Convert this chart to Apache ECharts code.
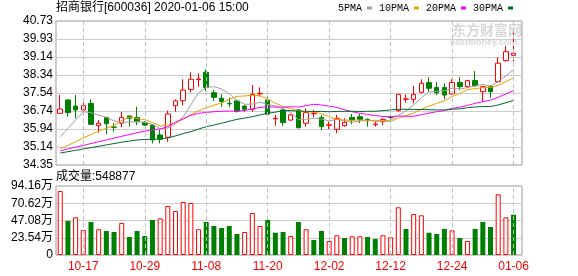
<!DOCTYPE html>
<html><head><meta charset="utf-8">
<script src="https://cdn.jsdelivr.net/npm/echarts@6/dist/echarts.min.js"></script>
<style>html,body{margin:0;padding:0;background:#fff}#c{width:578px;height:276px}</style>
</head><body><div id="c"></div>
<script>
const dates = ['10-14','10-15','10-16','10-17','10-18','10-21','10-22','10-23','10-24','10-25',
  '10-28','10-29','10-30','10-31','11-01','11-04','11-05','11-06','11-07','11-08',
  '11-11','11-12','11-13','11-14','11-15','11-18','11-19','11-20','11-21','11-22',
  '11-25','11-26','11-27','11-28','11-29','12-02','12-03','12-04','12-05','12-06',
  '12-09','12-10','12-11','12-12','12-13','12-16','12-17','12-18','12-19','12-20',
  '12-23','12-24','12-25','12-26','12-27','12-30','12-31','01-02','01-03','01-06'];
const opens = [36.64,37.23,36.96,36.79,37.08,36.09,36.46,36.03,36.20,36.52,
  36.46,36.23,36.12,35.68,35.58,36.98,37.20,37.70,38.13,38.46,
  37.55,37.31,37.08,37.19,36.96,36.82,37.50,37.23,36.40,36.79,
  36.34,36.79,36.20,36.62,36.46,36.11,35.93,36.09,36.46,36.49,
  36.37,36.14,36.27,36.47,36.76,37.26,37.26,37.57,38.00,37.78,
  37.78,37.50,38.01,37.82,38.09,37.60,37.82,38.04,38.97,39.21];
const closes = [36.83,36.67,36.79,36.98,36.15,36.20,36.18,36.02,36.46,36.42,
  36.27,36.12,35.46,35.49,36.61,37.19,37.67,38.15,38.16,37.78,
  37.35,37.16,37.06,36.74,36.82,37.48,37.53,36.60,36.42,36.23,
  36.57,36.00,36.67,36.64,36.05,36.13,36.42,36.24,36.34,36.37,
  36.31,36.16,36.37,36.45,37.48,37.28,37.48,37.97,37.75,37.55,
  37.45,38.01,37.82,38.09,37.86,37.82,37.60,38.86,39.37,39.30];
const lows = [36.62,36.49,36.42,36.77,36.12,35.78,35.72,35.83,36.02,36.05,
  36.12,36.08,35.31,35.31,35.38,36.71,36.98,37.57,37.82,37.63,
  37.19,36.93,36.91,36.67,36.71,36.71,37.38,36.52,36.09,36.09,
  36.30,35.98,36.05,36.46,35.90,35.94,35.75,36.05,36.15,36.20,
  36.05,36.05,36.12,36.27,36.71,37.11,37.08,37.53,37.60,37.45,
  37.26,37.45,37.67,37.75,37.82,37.16,37.33,38.00,38.93,38.93];
const highs = [37.45,37.25,37.45,37.11,37.26,36.34,36.48,36.20,36.71,36.55,
  36.93,36.30,36.15,35.90,36.76,37.26,38.15,38.46,38.41,38.59,
  37.67,37.48,37.33,37.21,37.01,37.89,37.79,37.38,36.57,36.82,
  36.62,36.82,36.86,36.79,36.57,36.27,36.57,36.42,36.61,36.61,
  36.42,36.27,36.42,36.57,37.50,37.48,37.85,38.15,38.24,38.04,
  37.97,38.15,38.24,38.12,38.51,37.86,37.89,39.12,39.62,40.21];
const volumes = [873000,464000,514000,341000,450000,351000,328000,314000,437000,246000,
  328000,259000,478000,501000,669000,600000,723000,710000,351000,450000,
  396000,368000,396000,287000,314000,573000,396000,478000,304000,314000,
  259000,450000,351000,205000,328000,191000,269000,232000,255000,255000,
  246000,218000,269000,242000,651000,355000,560000,542000,304000,287000,
  355000,337000,232000,191000,355000,450000,382000,828000,514000,548877];
const ma5 = [35.60,35.97,36.34,36.71,36.67,36.56,36.46,36.31,36.22,36.26,
  36.27,36.25,36.15,35.96,35.99,36.17,36.48,37.02,37.55,37.79,
  37.82,37.72,37.50,37.22,37.04,37.05,37.13,37.03,36.97,36.85,
  36.67,36.36,36.38,36.42,36.39,36.30,36.38,36.30,36.24,36.30,
  36.34,36.28,36.31,36.33,36.55,36.75,37.01,37.33,37.59,37.61,
  37.64,37.75,37.72,37.78,37.85,37.92,37.84,38.05,38.30,38.59];
const ma10 = [35.08,35.22,35.38,35.55,35.70,35.85,35.98,36.10,36.32,36.47,
  36.41,36.36,36.23,36.08,36.12,36.22,36.37,36.58,36.75,36.89,
  37.00,37.10,37.26,37.39,37.41,37.44,37.42,37.27,37.09,36.94,
  36.86,36.75,36.71,36.70,36.62,36.48,36.37,36.34,36.33,36.34,
  36.32,36.33,36.30,36.28,36.43,36.54,36.65,36.82,36.96,37.08,
  37.19,37.38,37.52,37.69,37.73,37.78,37.79,37.88,38.04,38.22];
const ma20 = [34.98,35.06,35.14,35.22,35.30,35.38,35.46,35.54,35.62,35.70,
  35.78,35.85,35.90,35.95,36.05,36.25,36.40,36.55,36.64,36.68,
  36.71,36.73,36.74,36.73,36.77,36.83,36.90,36.93,36.92,36.91,
  36.93,36.92,36.98,37.04,37.01,36.96,36.90,36.80,36.71,36.64,
  36.59,36.54,36.50,36.49,36.52,36.51,36.51,36.58,36.65,36.71,
  36.76,36.86,36.91,36.99,37.08,37.16,37.22,37.35,37.50,37.65];
const ma30 = [34.88,34.94,35.00,35.06,35.12,35.18,35.24,35.30,35.36,35.41,
  35.46,35.48,35.49,35.50,35.55,35.64,35.74,35.83,35.94,36.05,
  36.12,36.20,36.29,36.37,36.43,36.49,36.57,36.64,36.69,36.77,
  36.76,36.74,36.73,36.72,36.72,36.71,36.72,36.73,36.73,36.72,
  36.73,36.73,36.76,36.79,36.82,36.82,36.81,36.81,36.80,36.79,
  36.79,36.82,36.84,36.89,36.92,36.94,36.94,37.01,37.11,37.21];
const priceTicks = ['34.35','35.14','35.94','36.74','37.54','38.34','39.14','39.93','40.73'];
const volumeTicks = ['0','23.54万','47.08万','70.62万','94.16万'];
const labelDates = ['10-17','10-29','11-08','11-20','12-02','12-12','12-24','01-06'];
const maNames = ['5PMA','10PMA','20PMA','30PMA'];

const FONT = 'Liberation Sans, "Noto Sans CJK SC", sans-serif';
const pMin = Number(priceTicks[0]), pMax = Number(priceTicks[priceTicks.length-1]);
const pInt = Math.round((pMax - pMin) / (priceTicks.length - 1) * 1e6) / 1e6;
const vMax = 941600, vInt = Math.round(vMax / (volumeTicks.length - 1));

const UP = '#ff0000', DOWN = '#008000';
function dashLine() {
  return {
    silent: true, symbol: ['none','none'], animation: false,
    label: {show: false},
    lineStyle: {color: '#c0c0c0', type: [4, 3], width: 1},
    data: labelDates.map(d => ({xAxis: d}))
  };
}

const chart = echarts.init(document.getElementById('c'), null, {renderer: 'canvas'});
chart.setOption({
  animation: false,
  backgroundColor: '#fff',
  title: [
    {text: '招商银行[600036] 2020-01-06 15:00', left: 56, top: 2, padding: 0,
     textStyle: {fontSize: 12, fontWeight: 'normal', color: '#000', fontFamily: FONT}},
    {text: '成交量:' + volumes[volumes.length-1], left: 56, top: 171, padding: 0,
     textStyle: {fontSize: 12, fontWeight: 'normal', color: '#000', fontFamily: FONT}}
  ],
  legend: {
    data: maNames, left: 338, top: 3, padding: 0, itemWidth: 5, itemHeight: 3, itemGap: 7,
    align: 'right', icon: 'rect', selectedMode: false,
    textStyle: {fontSize: 10, color: '#000', fontFamily: 'Liberation Mono, monospace'}
  },
  graphic: [
    {type: 'text', left: 452, top: 23, z: -10, silent: true,
     style: {text: '东方财富网', fill: '#d8d8d8', font: 'bold 14px "Noto Sans CJK SC"'}},
    {type: 'text', left: 450, top: 38, z: -10, silent: true,
     style: {text: 'eastmoney.com', fill: '#d8d8d8', font: 'bold 9px Liberation Sans'}}
  ],
  grid: [
    {left: 56, top: 21, width: 466, height: 144, show: true, borderColor: '#999', borderWidth: 1},
    {left: 56.4, top: 21, width: 461, height: 144},
    {left: 56, top: 186, width: 466, height: 69, show: true, borderColor: '#999', borderWidth: 1},
    {left: 56.4, top: 186, width: 461, height: 69}
  ],
  xAxis: [
    {gridIndex: 0, type: 'value', min: 0, max: 1, show: false},
    {gridIndex: 1, type: 'category', data: dates, boundaryGap: true,
     axisLine: {show: false}, axisTick: {show: false}, axisLabel: {show: false}, splitLine: {show: false}},
    {gridIndex: 2, type: 'value', min: 0, max: 1, show: false},
    {gridIndex: 3, type: 'category', data: dates, boundaryGap: true,
     axisLine: {show: false}, axisTick: {show: false}, splitLine: {show: false},
     axisLabel: {interval: (idx, val) => labelDates.includes(val), color: '#ff0000',
                 fontSize: 12, margin: 6, fontFamily: FONT}}
  ],
  yAxis: [
    {gridIndex: 0, type: 'value', min: pMin, max: pMax, interval: pInt,
     axisLine: {show: false}, axisTick: {show: false},
     axisLabel: {formatter: v => priceTicks[Math.round((v - pMin) / pInt)], margin: 3,
                 fontSize: 12, color: '#000', fontFamily: FONT},
     splitLine: {show: true, lineStyle: {color: '#cccccc', width: 1}}},
    {gridIndex: 1, type: 'value', min: pMin, max: pMax, show: false, splitLine: {show: false}},
    {gridIndex: 2, type: 'value', min: 0, max: vMax, interval: vInt,
     axisLine: {show: false}, axisTick: {show: false},
     axisLabel: {formatter: v => volumeTicks[Math.round(v / vInt)], margin: 3,
                 fontSize: 12, color: '#000', fontFamily: FONT},
     splitLine: {show: true, lineStyle: {color: '#cccccc', width: 1}}},
    {gridIndex: 3, type: 'value', min: 0, max: vMax, show: false, splitLine: {show: false}}
  ],
  series: [
    {type: 'candlestick', xAxisIndex: 1, yAxisIndex: 1, barWidth: 5,
     data: dates.map((d, i) => [opens[i], closes[i], lows[i], highs[i]]),
     itemStyle: {color: '#ffffff', color0: DOWN, borderColor: UP, borderColor0: DOWN, borderWidth: 1},
     markLine: dashLine()},
    {name: maNames[0], type: 'line', xAxisIndex: 1, yAxisIndex: 1, data: ma5, symbol: 'none',
     color: '#a0a0a0', lineStyle: {width: 1}, z: 3},
    {name: maNames[1], type: 'line', xAxisIndex: 1, yAxisIndex: 1, data: ma10, symbol: 'none',
     color: '#f0a000', lineStyle: {width: 1}, z: 3},
    {name: maNames[2], type: 'line', xAxisIndex: 1, yAxisIndex: 1, data: ma20, symbol: 'none',
     color: '#ff00ff', lineStyle: {width: 1}, z: 3},
    {name: maNames[3], type: 'line', xAxisIndex: 1, yAxisIndex: 1, data: ma30, symbol: 'none',
     color: '#00692d', lineStyle: {width: 1}, z: 3},
    {type: 'bar', xAxisIndex: 3, yAxisIndex: 3, barWidth: 5,
     data: volumes.map((v, i) => {
       const up = i === 0 || closes[i] >= closes[i-1];
       return {value: v, itemStyle: up ? {color: '#ffffff', borderColor: UP, borderWidth: 1}
                                       : {color: DOWN, borderColor: DOWN, borderWidth: 0}};
     }),
     markLine: dashLine()}
  ]
});
</script></body></html>
